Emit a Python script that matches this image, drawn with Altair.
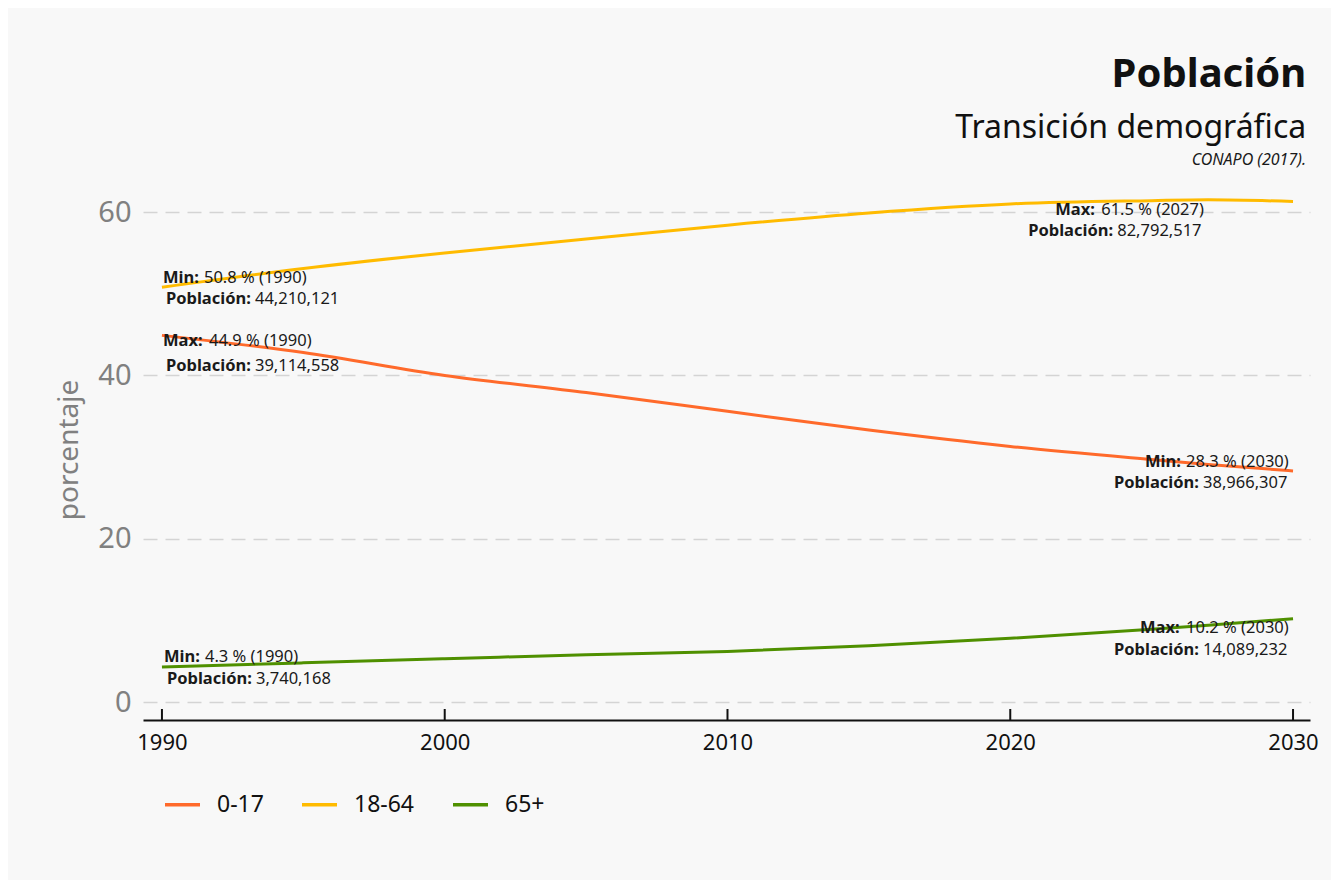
import altair as alt
import pandas as pd

FONT = "Noto Sans"

# ---- data ----
years = [1990, 1995, 2000, 2005, 2010, 2015, 2020, 2025, 2027, 2030]
v_0_17 = [44.9, 42.8, 40.0, 37.9, 35.6, 33.3, 31.3, 29.7, 29.1, 28.3]
v_18_64 = [50.8, 53.1, 55.0, 56.7, 58.4, 59.9, 61.0, 61.4, 61.5, 61.3]
v_65 = [4.3, 4.8, 5.3, 5.8, 6.2, 6.9, 7.8, 8.9, 9.4, 10.2]
groups = ["0-17", "18-64", "65+"]
colors = ["#ff6a2b", "#ffbb00", "#4f9000"]
tick_years = [1990, 2000, 2010, 2020, 2030]

ann_kind = ["Min", "Max", "Max", "Min", "Max", "Min"]
ann_year = [1990, 1990, 2027, 2030, 2030, 1990]
ann_pct = [50.8, 44.9, 61.5, 28.3, 10.2, 4.3]
ann_pop = ["44,210,121", "39,114,558", "82,792,517", "38,966,307", "14,089,232", "3,740,168"]

# ---- styling / layout ----
W, H = 1167, 541
ann_offsets = [(1, -9, 4, 12), (1, 6, 4, 31), (-153, 10, -180, 31),
               (-148, -9, -179, 12), (-153, 9, -179, 31), (2, -10, 5, 12)]
prefix_w = {"Min:": 41, "Max:": 46, "Población:": 89}
ANN_SIZE = 16.5

rows = []
for g, vals in zip(groups, [v_0_17, v_18_64, v_65]):
    for y, v in zip(years, vals):
        rows.append({"year": y, "pct": v, "grupo": g})
df = pd.DataFrame(rows)

lines = alt.Chart(df).mark_line(strokeWidth=3, interpolate="monotone").encode(
    x=alt.X("year:Q", title=None,
            scale=alt.Scale(domain=[1989.33, 2030.6], nice=False, zero=False),
            axis=alt.Axis(values=tick_years, format="d", grid=False, ticks=False,
                          labelFontSize=22, labelColor="#111111", labelFont=FONT,
                          labelPadding=12, domainColor="#111111", domainWidth=2)),
    y=alt.Y("pct:Q", title="porcentaje",
            scale=alt.Scale(domain=[-2.2, 64.05], nice=False, zero=False),
            axis=alt.Axis(values=[0, 20, 40, 60], domain=False, ticks=False,
                          labelFontSize=29, labelColor="#808080", labelFont=FONT,
                          labelPadding=12, titleFontSize=28, titleColor="#808080",
                          titleFont=FONT, titleFontWeight="normal", titlePadding=14,
                          gridDash=[14, 8], gridColor="#d4d4d4", gridWidth=1.5)),
    color=alt.Color("grupo:N", scale=alt.Scale(domain=groups, range=colors),
                    legend=alt.Legend(title=None, orient="none", legendX=20, legendY=606,
                                      direction="horizontal", symbolType="stroke",
                                      symbolSize=1225, symbolStrokeWidth=3.5,
                                      labelFontSize=23, labelFont=FONT, labelColor="#111111",
                                      labelOffset=15, columnPadding=31)),
)

ticks = alt.Chart(pd.DataFrame({"year": tick_years})).mark_rule(
    color="#111111", strokeWidth=2).encode(
    x="year:Q", y=alt.value(H - 11), y2=alt.value(H))

layers = [lines, ticks]
for i in range(len(ann_kind)):
    dx1, dy1, dx2, dy2 = ann_offsets[i]
    p1 = ann_kind[i] + ":"
    r1 = f"{ann_pct[i]} % ({ann_year[i]})"
    p2 = "Población:"
    r2 = ann_pop[i]
    base = pd.DataFrame({"year": [ann_year[i]], "pct": [ann_pct[i]]})
    for txt, dx, dy, bold in [(p1, dx1, dy1, True), (r1, dx1 + prefix_w[p1], dy1, False),
                              (p2, dx2, dy2, True), (r2, dx2 + prefix_w[p2], dy2, False)]:
        d = base.copy()
        d["t"] = txt
        layers.append(alt.Chart(d).mark_text(
            align="left", baseline="middle", dx=dx, dy=dy, font=FONT,
            fontSize=ANN_SIZE, fontWeight="bold" if bold else "normal",
            color="#1a1a1a").encode(x="year:Q", y="pct:Q", text="t:N"))

caption = alt.Chart(pd.DataFrame({"t": ["CONAPO (2017)."]})).mark_text(
    align="right", baseline="middle", fontStyle="italic", fontSize=16, font=FONT,
    color="#1a1a1a").encode(x=alt.value(W - 4), y=alt.value(-19), text="t:N")
layers.append(caption)

chart = alt.layer(*layers).properties(
    width=W, height=H,
    autosize=alt.AutoSizeParams(type="none"),
    padding={"left": 135, "top": 171, "right": 21, "bottom": 160},
    background="#f8f8f8",
    title=alt.TitleParams(text="Población", subtitle="Transición demográfica",
                          anchor="end", fontSize=40, fontWeight="bold", font=FONT,
                          color="#111111", subtitleFontSize=32, subtitleFont=FONT,
                          subtitleColor="#111111", subtitlePadding=18, offset=8, dx=-12),
).configure_view(stroke=None)

chart.save("out.html", embed_options={"renderer": "svg", "actions": False})
